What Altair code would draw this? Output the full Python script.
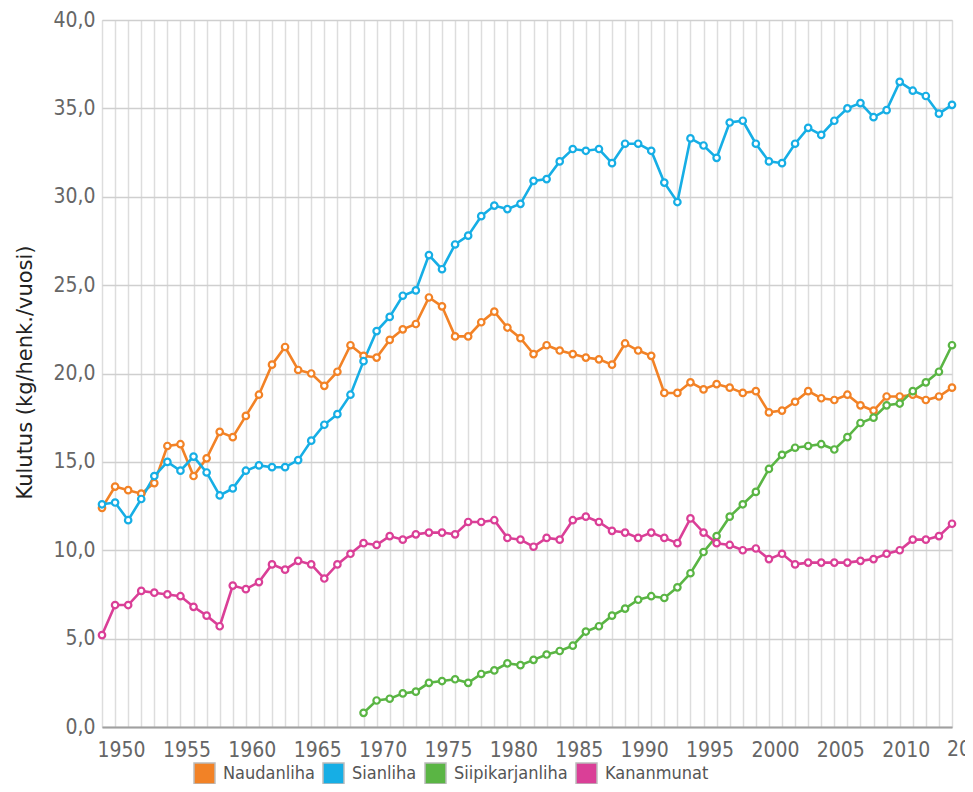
import altair as alt
import pandas as pd

years = list(range(1949, 2015))

naudanliha = [12.4, 13.6, 13.4, 13.2, 13.8, 15.9, 16.0, 14.2, 15.2, 16.7,
              16.4, 17.6, 18.8, 20.5, 21.5, 20.2, 20.0, 19.3, 20.1, 21.6,
              21.0, 20.9, 21.9, 22.5, 22.8, 24.3, 23.8, 22.1, 22.1, 22.9,
              23.5, 22.6, 22.0, 21.1, 21.6, 21.3, 21.1, 20.9, 20.8, 20.5,
              21.7, 21.3, 21.0, 18.9, 18.9, 19.5, 19.1, 19.4, 19.2, 18.9,
              19.0, 17.8, 17.9, 18.4, 19.0, 18.6, 18.5, 18.8, 18.2, 17.9,
              18.7, 18.7, 18.8, 18.5, 18.7, 19.2]

sianliha = [12.6, 12.7, 11.7, 12.9, 14.2, 15.0, 14.5, 15.3, 14.4, 13.1,
            13.5, 14.5, 14.8, 14.7, 14.7, 15.1, 16.2, 17.1, 17.7, 18.8,
            20.7, 22.4, 23.2, 24.4, 24.7, 26.7, 25.9, 27.3, 27.8, 28.9,
            29.5, 29.3, 29.6, 30.9, 31.0, 32.0, 32.7, 32.6, 32.7, 31.9,
            33.0, 33.0, 32.6, 30.8, 29.7, 33.3, 32.9, 32.2, 34.2, 34.3,
            33.0, 32.0, 31.9, 33.0, 33.9, 33.5, 34.3, 35.0, 35.3, 34.5,
            34.9, 36.5, 36.0, 35.7, 34.7, 35.2]

siipikarjanliha = [None] * 20 + [
    0.8, 1.5, 1.6, 1.9, 2.0, 2.5, 2.6, 2.7, 2.5, 3.0,
    3.2, 3.6, 3.5, 3.8, 4.1, 4.3, 4.6, 5.4, 5.7, 6.3,
    6.7, 7.2, 7.4, 7.3, 7.9, 8.7, 9.9, 10.8, 11.9, 12.6,
    13.3, 14.6, 15.4, 15.8, 15.9, 16.0, 15.7, 16.4, 17.2, 17.5,
    18.2, 18.3, 19.0, 19.5, 20.1, 21.6]

kananmunat = [5.2, 6.9, 6.9, 7.7, 7.6, 7.5, 7.4, 6.8, 6.3, 5.7,
              8.0, 7.8, 8.2, 9.2, 8.9, 9.4, 9.2, 8.4, 9.2, 9.8,
              10.4, 10.3, 10.8, 10.6, 10.9, 11.0, 11.0, 10.9, 11.6, 11.6,
              11.7, 10.7, 10.6, 10.2, 10.7, 10.6, 11.7, 11.9, 11.6, 11.1,
              11.0, 10.7, 11.0, 10.7, 10.4, 11.8, 11.0, 10.4, 10.3, 10.0,
              10.1, 9.5, 9.8, 9.2, 9.3, 9.3, 9.3, 9.3, 9.4, 9.5,
              9.8, 10.0, 10.6, 10.6, 10.8, 11.5]

series_names = ["Naudanliha", "Sianliha", "Siipikarjanliha", "Kananmunat"]
series_values = [naudanliha, sianliha, siipikarjanliha, kananmunat]
colors = ["#F28226", "#16AEE5", "#5AB544", "#DA3F97"]

y_ticks = [0, 5, 10, 15, 20, 25, 30, 35, 40]
extra_label_year = [2015]

rows = []
for name, vals in zip(series_names, series_values):
    for yr, v in zip(years, vals):
        if v is not None:
            rows.append({"year": yr, "value": v, "series": name})
df = pd.DataFrame(rows)

FONT = "DejaVu Sans Condensed, DejaVu Sans, sans-serif"
TFONT = "DejaVu Sans, sans-serif"

xscale = alt.Scale(domain=[years[0], years[-1]], nice=False, zero=False)
yscale = alt.Scale(domain=[0, 40], nice=False, zero=True)
cscale = alt.Scale(domain=series_names, range=colors)

x_enc = alt.X("year:Q", scale=xscale,
              axis=alt.Axis(values=years, tickCount=len(years), title=None, ticks=False,
                            labelExpr="datum.value % 5 == 0 ? toString(datum.value) : ''",
                            grid=True, gridColor="#dddddd", gridWidth=1.5,
                            domainColor="#a0a0a0", domainWidth=2,
                            labelFontSize=21, labelColor="#666666",
                            labelPadding=12, labelFont=FONT, labelOffset=6,
                            labelOverlap=False))
y_enc = alt.Y("value:Q", scale=yscale,
              axis=alt.Axis(values=y_ticks, tickCount=len(y_ticks), title="Kulutus (kg/henk./vuosi)",
                            labelExpr="replace(format(datum.value, '.1f'), '.', ',')",
                            grid=True, gridColor="#cfcfcf", gridWidth=1.5,
                            domain=False, ticks=False,
                            labelFontSize=21, labelColor="#666666",
                            labelPadding=7, labelFont=FONT,
                            titleFont=TFONT, titleFontSize=21, titleFontWeight="normal",
                            titleColor="#222222", titleX=-77, titleY=352,
                            titleAlign="center", titleBaseline="middle",
                            titleAngle=270))

base = alt.Chart(df)

lines = base.mark_line(strokeWidth=2.6).encode(
    x=x_enc, y=y_enc,
    stroke=alt.Stroke("series:N", scale=cscale, legend=None),
    detail="series:N",
)

points = base.mark_point(filled=True, fill="white", size=42, strokeWidth=2.2, opacity=1).encode(
    x="year:Q", y="value:Q",
    stroke=alt.Stroke("series:N", scale=cscale, legend=None),
)

legend_df = pd.DataFrame({"nimi": series_names})
legend_layer = alt.Chart(legend_df).mark_square(size=0, opacity=1).encode(
    color=alt.Color("nimi:N", scale=alt.Scale(domain=series_names, range=colors),
                    legend=alt.Legend(title=None, orient="none", direction="horizontal",
                                      legendX=91, legendY=742,
                                      symbolType="square", symbolSize=440,
                                      symbolStrokeColor="#bbbbbb", symbolStrokeWidth=1.5,
                                      symbolOpacity=1,
                                      labelFontSize=18, labelColor="#555555",
                                      labelFont=FONT, labelOffset=7,
                                      columnPadding=5)),
)

extra = alt.Chart(pd.DataFrame({"year": extra_label_year, "value": [0],
                                "label": [str(v) for v in extra_label_year]})).mark_text(
    fontSize=21, color="#666666", font=FONT, baseline="top", dy=12, dx=6
).encode(x="year:Q", y="value:Q", text="label:N")

chart = alt.layer(lines, points, legend_layer, extra).properties(
    width=850, height=707,
    autosize=alt.AutoSizeParams(type="none"),
    padding={"left": 94, "top": 12, "right": 13, "bottom": 57},
).resolve_scale(color="independent").configure_view(stroke=None).configure(background="white")

chart.save("out.html", embed_options={"renderer": "svg", "actions": False})
